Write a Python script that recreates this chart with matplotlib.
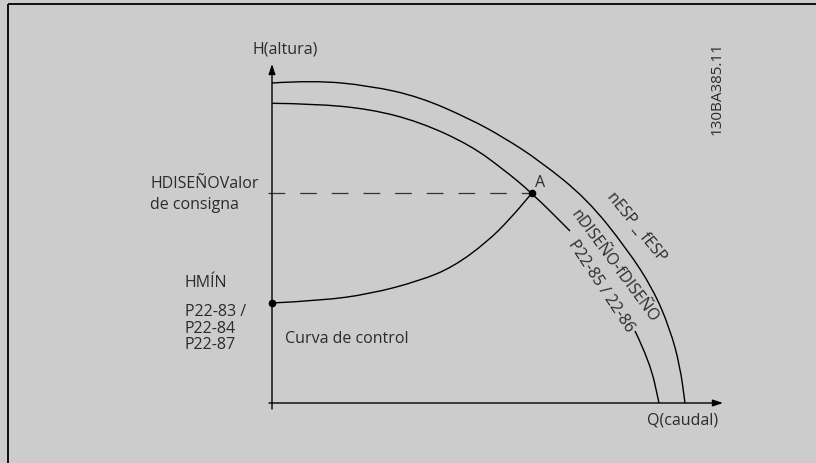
import matplotlib
matplotlib.use("Agg")
import matplotlib.pyplot as plt
from matplotlib.path import Path
from matplotlib.patches import PathPatch

# curvas de bomba (Q = caudal, H = altura)
outer_q = [0, 41, 98, 148, 198, 231, 268, 315, 355, 381, 398, 408, 413]
outer_h = [320, 322.7, 317.3, 306, 284, 266, 242, 204, 154, 114, 74, 37, 0]

inner_q_top = [0, 41, 98, 148, 198, 231, 260, 298]
inner_h_top = [299.7, 299.3, 294, 281, 258, 234, 210, 172]
inner_q_low = [363, 378, 387]
inner_h_low = [72, 41, 0]

ctrl_q = [0, 48, 98, 148, 181, 215, 238, 260]
ctrl_h = [100, 102.3, 109, 122.3, 136, 161, 184, 210]

point_a = (260, 210)
h_min = 100
h_design = 210
q_max = 451
h_max = 339

plt.rcParams['font.family'] = ['Open Sans', 'DejaVu Sans']
plt.rcParams['lines.scale_dashes'] = False
txt = '#2b2b2b'
bg = '#cccccc'


def curve(ax, q, h):
    # trazo suave por los puntos leidos (bezier por puntos medios)
    verts = [(q[0], h[0])]
    codes = [Path.MOVETO]
    for i in range(1, len(q) - 1):
        mid = ((q[i] + q[i + 1]) / 2, (h[i] + h[i + 1]) / 2)
        verts += [(q[i], h[i]), mid]
        codes += [Path.CURVE3, Path.CURVE3]
    verts.append((q[-1], h[-1]))
    codes.append(Path.LINETO)
    ax.add_patch(PathPatch(Path(verts, codes), fill=False, edgecolor='k',
                           lw=1.0, capstyle='butt'))


fig = plt.figure(figsize=(8.16, 4.64), dpi=100, facecolor=bg)
ax = fig.add_axes([0, 0, 1, 1])
ax.set_facecolor(bg)
ax.set_xlim(-272, 544)
ax.set_ylim(-60, 404)
ax.axis('off')

# marco
ax.plot([-263.7, -263.7], [-60, 399.5], color='k', lw=1.3, solid_capstyle='butt')
ax.plot([-263.7, 544], [399.5, 399.5], color='k', lw=1.3, solid_capstyle='butt')

# ejes
ax.annotate('', xy=(0, h_max), xytext=(0, -6),
            arrowprops=dict(arrowstyle='-|>,head_length=0.6,head_width=0.2',
                            color='k', lw=1.0, shrinkA=0, shrinkB=0, mutation_scale=10))
ax.annotate('', xy=(q_max, 0), xytext=(-3, 0),
            arrowprops=dict(arrowstyle='-|>,head_length=0.6,head_width=0.2',
                            color='k', lw=1.0, shrinkA=0, shrinkB=0, mutation_scale=10))

# curvas
curve(ax, outer_q, outer_h)
curve(ax, inner_q_top, inner_h_top)
curve(ax, inner_q_low, inner_h_low)
curve(ax, ctrl_q, ctrl_h)

ax.plot([-4.5, point_a[0]], [h_design, h_design], color='#333333', lw=0.9,
        dashes=(12, 10.8))

ax.plot([point_a[0], 0], [point_a[1], h_min], 'o', color='k', ms=4.5, ls='none')

# textos
fs = 11.5
ax.text(-20, 351, 'H(altura)', fontsize=fs, color=txt, ha='left', va='baseline')
ax.text(-122, 216, 'HDISEÑOValor', fontsize=fs, color=txt, ha='left', va='baseline')
ax.text(-122, 195, 'de consigna', fontsize=fs, color=txt, ha='left', va='baseline')
ax.text(-87, 117, 'HMÍN', fontsize=fs, color=txt, ha='left', va='baseline')
ax.text(-87, 88, 'P22-83 /', fontsize=fs, color=txt, ha='left', va='baseline')
ax.text(-87, 71, 'P22-84', fontsize=fs, color=txt, ha='left', va='baseline')
ax.text(-87, 55, 'P22-87', fontsize=fs, color=txt, ha='left', va='baseline')
ax.text(13, 61, 'Curva de control', fontsize=fs, color=txt, ha='left', va='baseline')
ax.text(263, 217, 'A', fontsize=fs, color=txt, ha='left', va='baseline')
ax.text(375, -21, 'Q(caudal)', fontsize=fs, color=txt, ha='left', va='baseline')

ax.text(445, 315, '130BA385.11', fontsize=11, color=txt, rotation=90,
        ha='center', va='center', rotation_mode='anchor')
ax.text(364, 177, 'nESP _ fESP', fontsize=fs, color=txt, rotation=-51,
        ha='center', va='center', rotation_mode='anchor')
ax.text(342, 138, 'nDISEÑO-fDISEÑO', fontsize=fs, color=txt, rotation=-53.5,
        ha='center', va='center', rotation_mode='anchor')
ax.text(329, 118, 'P22-85 / 22-86', fontsize=fs, color=txt, rotation=-56.5,
        ha='center', va='center', rotation_mode='anchor')

fig.savefig('out.png', dpi=100, facecolor=bg)
